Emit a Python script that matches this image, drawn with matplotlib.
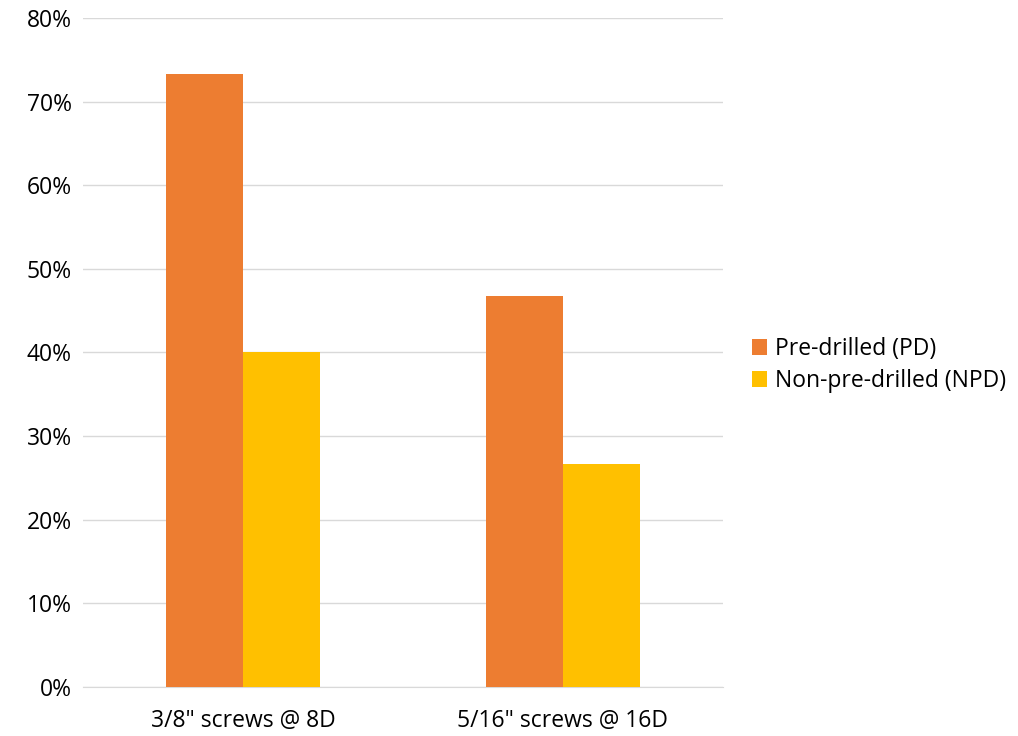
import matplotlib
matplotlib.use("Agg")
import matplotlib.pyplot as plt
import numpy as np
from matplotlib.ticker import PercentFormatter

# ── Datos ────────────────────────────────────────────────────────────────────
categorias = ['3/8" screws @ 8D', '5/16" screws @ 16D']
series = ["Pre-drilled (PD)", "Non-pre-drilled (NPD)"]
pd_vals = [73.3, 46.7]
npd_vals = [40.0, 26.7]

NARANJA = "#ED7D31"
AMARILLO = "#FFC000"

plt.rcParams["font.family"] = ["Open Sans", "DejaVu Sans"]
FS = 16.5

fig = plt.figure(figsize=(10.18, 7.36), dpi=100)
ax = fig.add_axes([0.0815, 0.0666, 0.6287, 0.909])

x = np.arange(len(categorias))
w = 0.24
ax.bar(x - w/2, pd_vals, width=w, color=NARANJA, label=series[0], zorder=3)
ax.bar(x + w/2, npd_vals, width=w, color=AMARILLO, label=series[1], zorder=3)

ax.set_xlim(-0.5, 1.5)
ax.set_ylim(0, 80)
ax.set_yticks(range(0, 81, 10))
ax.yaxis.set_major_formatter(PercentFormatter(decimals=0))
ax.set_xticks(x)
ax.set_xticklabels(categorias)
ax.tick_params(axis="both", length=0, labelsize=FS, colors="#000000")
ax.tick_params(axis="y", pad=8)
ax.tick_params(axis="x", pad=16)
ax.grid(axis="y", color="#D9D9D9", linewidth=1, zorder=0)
for s in ("top", "right", "left"):
    ax.spines[s].set_visible(False)
ax.spines["bottom"].set_color("#D9D9D9")

fig.legend(loc="center left", bbox_to_anchor=(0.7387, 0.504), frameon=False,
           fontsize=FS, handlelength=0.65, handleheight=0.65, borderpad=0,
           borderaxespad=0, handletextpad=0.35, labelspacing=0.35)

fig.savefig("out.png", dpi=100)
